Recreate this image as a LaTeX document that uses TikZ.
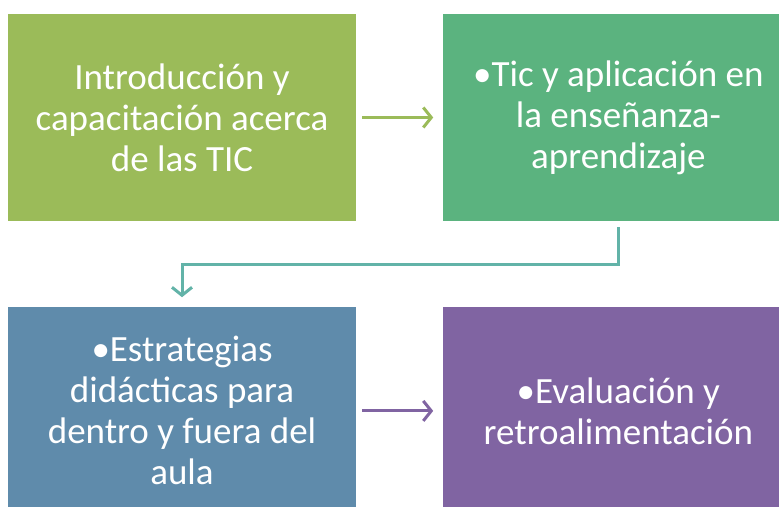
\documentclass[tikz,border=0pt]{standalone}
\usepackage{fontspec}
\setmainfont{Carlito}
\usepackage{xcolor}
\usepackage{tikz}
\usetikzlibrary{positioning, arrows.meta}

\definecolor{olivegreen}{HTML}{9BBB59}
\definecolor{seagreen}{HTML}{5BB37F}
\definecolor{steelblue}{HTML}{5F8BAB}
\definecolor{lavender}{HTML}{8064A2}
\definecolor{tealline}{HTML}{62B3A8}

\begin{document}
\begin{tikzpicture}[x=1pt, y=1pt,
  blok/.style={rectangle, inner sep=0pt, minimum height=207pt, text=white, align=center,
    font=\fontsize{37}{41}\selectfont},
  pijl/.style={line width=3pt, -{Straight Barb[length=8pt, width=20pt]}}]
\useasboundingbox (0,0) rectangle (779,-506);
\node[blok, fill=olivegreen, minimum width=348pt](intro) at (182,-117.5)
  {Introducción y\\capacitación acerca\\de las TIC};
\node[blok, fill=seagreen, minimum width=350pt, right = 87pt of intro](tic)
  {•Tic y aplicación en\\la enseñanza-\\aprendizaje};
\node[blok, fill=steelblue, minimum width=348pt, below = 86pt of intro](estrat)
  {•Estrategias\\didácticas para\\dentro y fuera del\\aula};
\node[blok, fill=lavender, minimum width=350pt, right = 87pt of estrat](evalua)
  {•Evaluación y\\retroalimentación};
\draw[pijl, olivegreen, shorten <=6pt, shorten >=10pt] (intro) -- (tic);
\draw[pijl, tealline, shorten <=6pt, shorten >=10pt] (tic.south) -- ++(0,-43) -| (estrat.north);
\draw[pijl, lavender, shorten <=6pt, shorten >=10pt] (estrat) -- (evalua);
\end{tikzpicture}
\end{document}
